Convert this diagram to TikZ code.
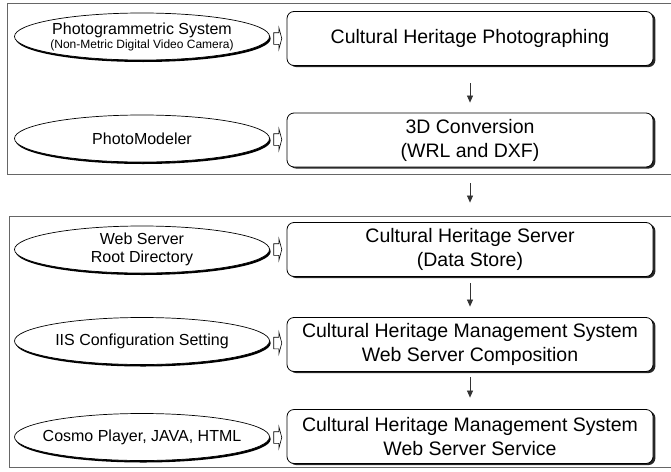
\documentclass[tikz,border=0pt]{standalone}
\usepackage{fontspec}
\setmainfont{Liberation Sans}
\usetikzlibrary{shapes.geometric,shapes.arrows,shadows,arrows.meta}

\begin{document}
\begin{tikzpicture}[x=1pt, y=-1pt,
  every node/.style={align=center},
  stage/.style={draw=black, fill=white, rounded corners=7pt, line width=0.8pt,
                minimum width=366pt, minimum height=54pt, inner sep=2pt,
                font=\fontsize{19.5}{24}\selectfont,
                drop shadow={shadow xshift=2.4pt, shadow yshift=-1.6pt, fill=black!85, opacity=1}},
  tool/.style={ellipse, draw=black, fill=white, line width=0.7pt,
               minimum width=255pt, minimum height=47pt, inner xsep=-40pt, inner ysep=-10pt,
               font=\fontsize{16}{18}\selectfont,
               drop shadow={shadow xshift=1.2pt, shadow yshift=-2pt, fill=black, opacity=1}},
  feed/.style={single arrow, draw=black, fill=white, line width=0.6pt,
               minimum height=8pt, inner xsep=0pt, inner ysep=5.5pt,
               single arrow head extend=5pt, single arrow tip angle=150},
  flow/.style={draw=black!80, line width=0.7pt, -{Triangle[length=7pt,width=6pt]}},
  panel/.style={draw=black!60, line width=0.7pt}
]
\useasboundingbox (0,0) rectangle (671,471);

% the two groups
\draw[panel] (673,3) -- (7,3) -- (7,174) -- (673,174);
\draw[panel] (673,216) -- (9,216) -- (9,467) -- (673,467);

% process steps
\node[stage] (b1) at (470,38.5) {Cultural Heritage Photographing};
\node[stage] (b2) at (470,140) {3D Conversion\\(WRL and DXF)};
\node[stage] (b3) at (470,249.5) {Cultural Heritage Server\\(Data Store)};
\node[stage] (b4) at (470,344.5) {Cultural Heritage Management System\\Web Server Composition};
\node[stage] (b5) at (470,436.5) {Cultural Heritage Management System\\Web Server Service};

% tools used for each step
\node[tool] (e1) at (142,36.5) {Photogrammetric System\\[-4pt]{\fontsize{12}{13}\selectfont (Non-Metric Digital Video Camera)}};
\node[tool] (e2) at (142,138.5) {PhotoModeler};
\node[tool] (e3) at (142,249.5) {Web Server\\Root Directory};
\node[tool] (e4) at (142,341) {IIS Configuration Setting};
\node[tool] (e5) at (142,437) {Cosmo Player, JAVA, HTML};

\node[feed] (f1) at (277,38.5) {};
\node[feed] (f2) at (277,139.5) {};
\node[feed] (f3) at (277,249.5) {};
\node[feed] (f4) at (277,343) {};
\node[feed] (f5) at (277,437.5) {};

\draw[flow, shorten <=17.5pt, shorten >=10pt] (b1.south) -- (b2.north);
\draw[flow, shorten <=16pt, shorten >=19.5pt] (b2.south) -- (b3.north);
\draw[flow, shorten <=6.5pt, shorten >=10.5pt] (b3.south) -- (b4.north);
\draw[flow, shorten <=5.5pt, shorten >=11.5pt] (b4.south) -- (b5.north);
\end{tikzpicture}
\end{document}
